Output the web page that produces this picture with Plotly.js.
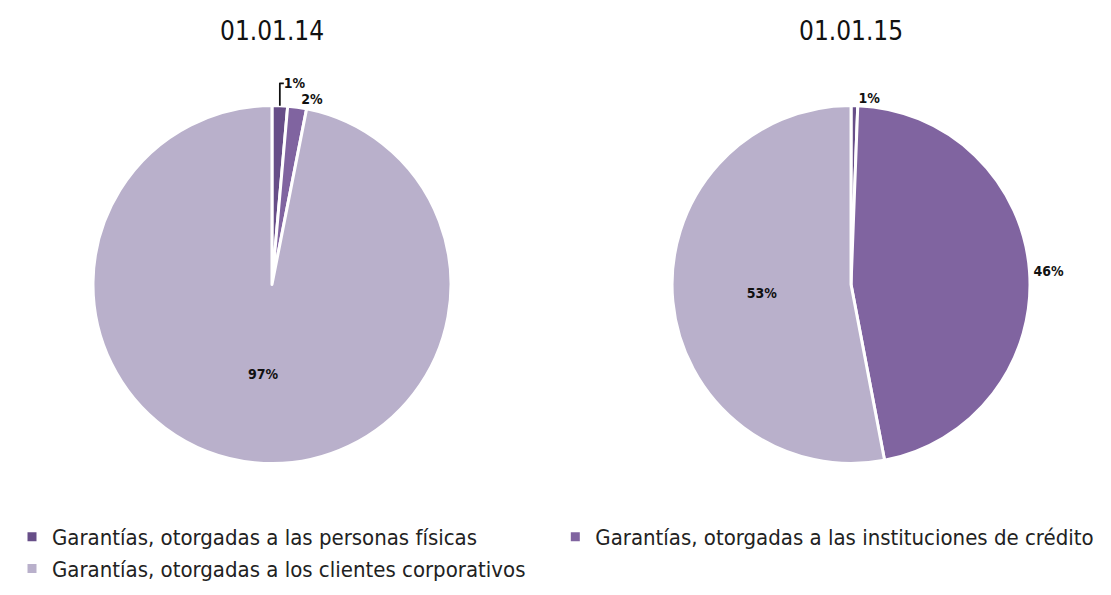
<!DOCTYPE html>
<html>
<head>
<meta charset="utf-8">
<script src="https://cdn.plot.ly/plotly-3.0.1.min.js"></script>
<style>html,body{margin:0;padding:0;background:#fff;}#chart{width:1111px;height:595px;}</style>
</head>
<body>
<div id="chart"></div>
<script>
var categories = [
  "Garantías, otorgadas a las personas físicas",
  "Garantías, otorgadas a las instituciones de crédito",
  "Garantías, otorgadas a los clientes corporativos"
];
var titles = ["01.01.14", "01.01.15"];
var values2014 = [1.4, 1.7, 96.9];
var values2015 = [0.6, 46.4, 53.0];
var colors = ["#674e88", "#8064a0", "#b9b0cb"];

var FONT = "'DejaVu Sans Condensed', 'Liberation Sans Narrow', 'Open Sans', sans-serif";

function pie(vals, dom, showlegend) {
  return {
    type: "pie",
    labels: categories,
    values: vals,
    sort: false,
    direction: "clockwise",
    rotation: 0,
    domain: dom,
    marker: {colors: colors, line: {color: "#ffffff", width: 3}},
    texttemplate: "%{percent:.0%}",
    textposition: ["outside", "outside", "inside"],
    insidetextorientation: "horizontal",
    textfont: {family: FONT, size: 14, color: "#111111", weight: "bold"},
    outsidetextfont: {family: FONT, size: 14, color: "#111111", weight: "bold"},
    insidetextfont: {family: FONT, size: 14, color: "#111111", weight: "bold"},
    hoverinfo: "label+percent",
    showlegend: showlegend
  };
}

var data = [
  pie(values2014, {x: [0.0837, 0.4059], y: [0, 1]}, true),
  pie(values2015, {x: [0.6049, 0.9271], y: [0, 1]}, false)
];

var layout = {
  width: 1111, height: 595,
  margin: {l: 0, r: 0, t: 105, b: 131},
  paper_bgcolor: "#ffffff",
  font: {family: FONT, color: "#222222"},
  showlegend: true,
  legend: {
    orientation: "h", x: 0.5, xanchor: "center", y: -0.145, yanchor: "top",
    font: {family: FONT, size: 22, color: "#222222"},
    itemwidth: 30,
    traceorder: "normal"
  },
  annotations: [
    {text: titles[0], x: 0.2448, y: 1.205, xref: "paper", yref: "paper", xanchor: "center", yanchor: "middle", showarrow: false, font: {family: FONT, size: 26, color: "#111111"}},
    {text: titles[1], x: 0.766, y: 1.205, xref: "paper", yref: "paper", xanchor: "center", yanchor: "middle", showarrow: false, font: {family: FONT, size: 26, color: "#111111"}}
  ]
};

Plotly.newPlot("chart", data, layout, {displayModeBar: false, staticPlot: true});
</script>
</body>
</html>
